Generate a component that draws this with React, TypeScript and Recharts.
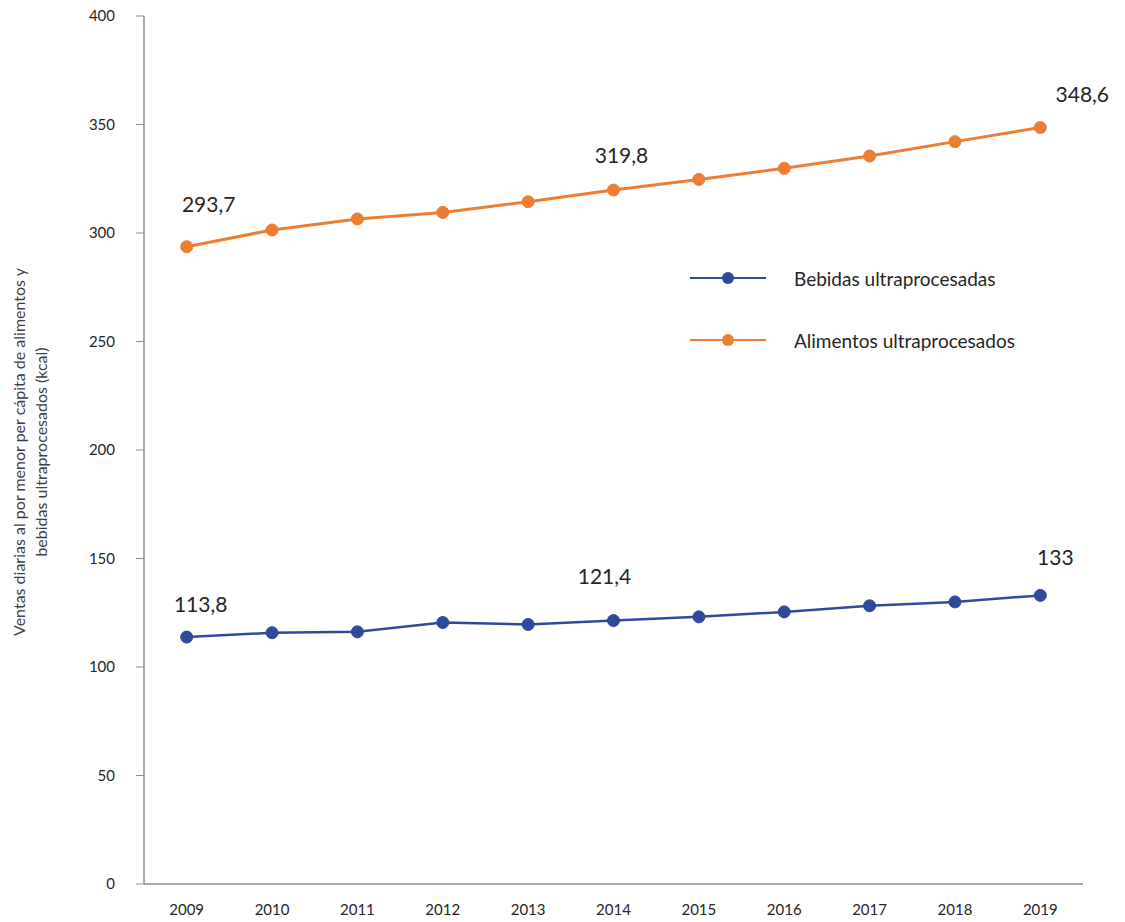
import { LineChart, Line, XAxis, YAxis, LabelList } from "recharts";

const years = [2009, 2010, 2011, 2012, 2013, 2014, 2015, 2016, 2017, 2018, 2019];
const bebidas = [113.8, 115.8, 116.2, 120.5, 119.6, 121.4, 123.1, 125.4, 128.2, 130.0, 133];
const alimentos = [293.7, 301.4, 306.5, 309.5, 314.4, 319.8, 324.7, 329.8, 335.5, 342.1, 348.6];
const labelled = [0, 5, 10];
const yTicks = [0, 50, 100, 150, 200, 250, 300, 350, 400];
const edges = [2008.5, 2009.5, 2010.5, 2011.5, 2012.5, 2013.5, 2014.5, 2015.5, 2016.5, 2017.5, 2018.5, 2019.5];

const BLUE = "#2F4A9C";
const ORANGE = "#ED7D31";
const AXIS = "#8C8C8C";
const FONT = "Lato, 'Open Sans', sans-serif";

const data = years.map((y, i) => ({ year: y, bebidas: bebidas[i], alimentos: alimentos[i] }));

// label nudges, per labelled point
const labelShift: Record<string, Record<number, [number, number]>> = {
  alimentos: { 0: [22, -40], 5: [8, -32], 10: [42, -31] },
  bebidas: { 0: [14, -30], 5: [-9, -42], 10: [15, -36] },
};

function makeLabel(key: string) {
  return (props: any) => {
    const { x, y, index, value } = props;
    if (!labelled.includes(index)) return null;
    const [dx, dy] = labelShift[key][index];
    return (
      <text
        x={x + dx}
        y={y + dy}
        textAnchor="middle"
        dominantBaseline="middle"
        fontFamily={FONT}
        fontSize={21}
        fill="#262626"
      >
        {String(value).replace(".", ",")}
      </text>
    );
  };
}

const series = [
  { name: "Bebidas ultraprocesadas", color: BLUE },
  { name: "Alimentos ultraprocesados", color: ORANGE },
];

const LegendBox = () => (
  <div
    style={{
      position: "absolute",
      left: 690,
      top: 247,
      fontFamily: FONT,
      fontSize: 19,
      color: "#262626",
    }}
  >
    {series.map((it) => (
      <div key={it.name} style={{ display: "flex", alignItems: "center", height: 62 }}>
        <svg width={76} height={16} style={{ marginRight: 28 }}>
          <line x1={0} y1={8} x2={76} y2={8} stroke={it.color} strokeWidth={2} />
          <circle cx={38} cy={8} r={6} fill={it.color} />
        </svg>
        <span>{it.name}</span>
      </div>
    ))}
  </div>
);

const YLabel = () => (
  <text
    transform="translate(36,452) rotate(-90)"
    textAnchor="middle"
    fontFamily={FONT}
    fontSize={16}
    fill="#404040"
  >
    <tspan x={0} dy={-11}>Ventas diarias al por menor per cápita de alimentos y</tspan>
    <tspan x={0} dy={22}>bebidas ultraprocesados (kcal)</tspan>
  </text>
);

export default function App() {
  return (
    <div style={{ position: "absolute", left: 0, top: 0, background: "#fff" }}>
      <LineChart
        width={1125}
        height={922}
        data={data}
        margin={{ top: 16, right: 42, bottom: 0, left: 0 }}
      >
        <XAxis
          xAxisId="edge"
          dataKey="year"
          type="number"
          domain={[2008.5, 2019.5]}
          ticks={edges}
          height={0}
          axisLine={false}
          tickLine={{ stroke: AXIS }}
          tickSize={6}
          tick={() => <g />}
          interval={0}
        />
        <XAxis
          xAxisId="yr"
          dataKey="year"
          type="number"
          domain={[2008.5, 2019.5]}
          ticks={years}
          height={38}
          axisLine={{ stroke: AXIS, strokeWidth: 1.5 }}
          tickLine={false}
          tickMargin={14}
          interval={0}
          tick={{ fontFamily: FONT, fontSize: 15, fill: "#262626" }}
        />
        <YAxis
          domain={[0, 400]}
          ticks={yTicks}
          width={144}
          axisLine={{ stroke: AXIS, strokeWidth: 1.5 }}
          tickLine={{ stroke: AXIS }}
          tickSize={8}
          tickMargin={21}
          tick={{ fontFamily: FONT, fontSize: 15, fill: "#262626" }}
          label={<YLabel />}
        />
        <Line
          xAxisId="yr"
          dataKey="bebidas"
          name="Bebidas ultraprocesadas"
          stroke={BLUE}
          strokeWidth={2.5}
          dot={{ r: 6, fill: BLUE, stroke: BLUE, strokeWidth: 1 }}
          isAnimationActive={false}
        >
          <LabelList dataKey="bebidas" content={makeLabel("bebidas")} />
        </Line>
        <Line
          xAxisId="yr"
          dataKey="alimentos"
          name="Alimentos ultraprocesados"
          stroke={ORANGE}
          strokeWidth={3}
          dot={{ r: 6, fill: ORANGE, stroke: ORANGE, strokeWidth: 1 }}
          isAnimationActive={false}
        >
          <LabelList dataKey="alimentos" content={makeLabel("alimentos")} />
        </Line>
      </LineChart>
      <LegendBox />
    </div>
  );
}
